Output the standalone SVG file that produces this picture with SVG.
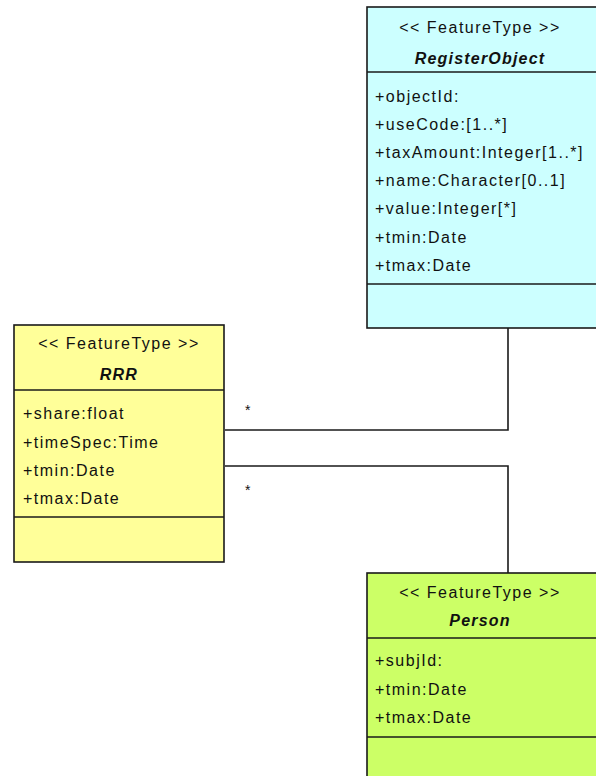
<svg xmlns="http://www.w3.org/2000/svg" width="596" height="776" viewBox="0 0 596 776">
<style>
.box{stroke:#1a1a1a;stroke-width:1.6}
.t{font-family:"Liberation Sans",Arial,sans-serif;font-size:16px;letter-spacing:1.5px;fill:#111}
.h{text-anchor:middle}
.n{font-weight:bold;font-style:italic;letter-spacing:1.2px}
.c{fill:none;stroke:#1a1a1a;stroke-width:1.6}
.m{font-family:"Liberation Sans",Arial,sans-serif;font-size:14px;fill:#111}
</style>
<rect width="596" height="776" fill="#ffffff"/>
<g id="connectors">
<polyline class="c" points="508,328 508,430 225,430"/>
<polyline class="c" points="225,466 508,466 508,573"/>
<text class="m" x="245" y="415">*</text>
<text class="m" x="245" y="495">*</text>
</g>
<g id="RegisterObject">
<rect class="box" x="367" y="7" width="240" height="321" fill="#ccffff"/>
<line class="box" x1="367" y1="72" x2="600" y2="72"/>
<line class="box" x1="367" y1="284" x2="600" y2="284"/>
<text class="t h" x="480" y="33">&lt;&lt; FeatureType &gt;&gt;</text>
<text class="t h n" x="480" y="64">RegisterObject</text>
<text class="t" x="375" y="102">+objectId:</text>
<text class="t" x="375" y="130">+useCode:[1..*]</text>
<text class="t" x="375" y="158">+taxAmount:Integer[1..*]</text>
<text class="t" x="375" y="186">+name:Character[0..1]</text>
<text class="t" x="375" y="214">+value:Integer[*]</text>
<text class="t" x="375" y="243">+tmin:Date</text>
<text class="t" x="375" y="271">+tmax:Date</text>
</g>
<g id="RRR">
<rect class="box" x="14" y="325" width="210" height="237" fill="#ffff99"/>
<line class="box" x1="14" y1="390" x2="224" y2="390"/>
<line class="box" x1="14" y1="517" x2="224" y2="517"/>
<text class="t h" x="119" y="349">&lt;&lt; FeatureType &gt;&gt;</text>
<text class="t h n" x="119" y="380">RRR</text>
<text class="t" x="23" y="419">+share:float</text>
<text class="t" x="23" y="448">+timeSpec:Time</text>
<text class="t" x="23" y="476">+tmin:Date</text>
<text class="t" x="23" y="504">+tmax:Date</text>
</g>
<g id="Person">
<rect class="box" x="367" y="573" width="240" height="220" fill="#ccff66"/>
<line class="box" x1="367" y1="638" x2="600" y2="638"/>
<line class="box" x1="367" y1="737" x2="600" y2="737"/>
<text class="t h" x="480" y="598">&lt;&lt; FeatureType &gt;&gt;</text>
<text class="t h n" x="480" y="626">Person</text>
<text class="t" x="375" y="666">+subjId:</text>
<text class="t" x="375" y="695">+tmin:Date</text>
<text class="t" x="375" y="723">+tmax:Date</text>
</g>
</svg>
